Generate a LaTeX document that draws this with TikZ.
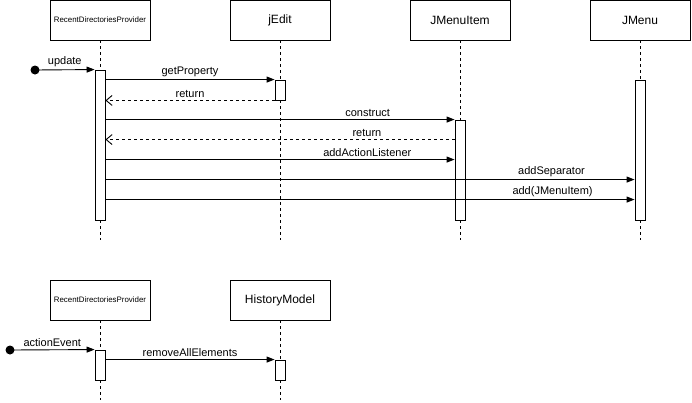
\documentclass[tikz,border=0pt]{standalone}
\usepackage{fontspec}
\setmainfont{Liberation Sans}
\usetikzlibrary{arrows.meta,calc}
\begin{document}
\begin{tikzpicture}[x=1pt,y=-1pt,line width=0.9pt,
 obj/.style={draw, fill=white, minimum width=100pt, minimum height=40pt, inner sep=0pt, font=\fontsize{12}{14}\selectfont},
 smallobj/.style={obj, font=\fontsize{7.9}{9}\selectfont},
 act/.style={draw, fill=white, minimum width=10pt, inner sep=0pt},
 life/.style={dash pattern=on 3pt off 3pt},
 msg/.style={-{Triangle[length=8pt,width=6pt]}},
 ret/.style={dash pattern=on 3pt off 3pt, -{Straight Barb[length=6pt,width=10pt]}},
 lbl/.style={font=\fontsize{11}{13}\selectfont, above, inner sep=2.5pt},
 dot/.style={circle, fill, inner sep=0pt, minimum size=9pt}]
\useasboundingbox (0,0) rectangle (692,402);

% ---- top diagram: objects
\node[smallobj] (rdp) at (100,20) {RecentDirectoriesProvider};
\node[obj] (jedit) at (280,20) {jEdit};
\node[obj] (jmi) at (460,20) {JMenuItem};
\node[obj] (jm) at (640,20) {JMenu};

\coordinate (rdpEnd) at (100,240);
\coordinate (jeditEnd) at (280,240);
\coordinate (jmiEnd) at (460,240);
\coordinate (jmEnd) at (640,240);
\draw[life] (rdp.south) -- (rdpEnd);
\draw[life] (jedit.south) -- (jeditEnd);
\draw[life] (jmi.south) -- (jmiEnd);
\draw[life] (jm.south) -- (jmEnd);

% activations
\node[act, minimum height=150pt] (rdpA) at (100,145) {};
\node[act, minimum height=20pt] (jeditA) at (280,90) {};
\node[act, minimum height=100pt] (jmiA) at (460,170) {};
\node[act, minimum height=140pt] (jmA) at (640,150) {};

\node[dot] (start1) at (35,70) {};

% message anchor points
\coordinate (retMI) at ([yshift=-20pt]jmiA.north west);
\coordinate (aalMI) at ([yshift=-40pt]jmiA.north west);
\coordinate (sepM) at ([yshift=-100pt]jmA.north west);
\coordinate (addM) at ([yshift=-120pt]jmA.north west);

% messages
\draw[msg] (start1.center) -- node[lbl] {update} (rdpA.north west);
\draw[msg] (rdpA.east |- jeditA.north) -- node[lbl] {getProperty} (jeditA.north west);
\draw[ret] (jeditA.south west) -- node[lbl] {return} (rdpA.east |- jeditA.south);
\draw[msg] (rdpA.east |- jmiA.north) -- node[lbl, pos=0.751] {construct} (jmiA.north west);
\draw[ret] (retMI) -- node[lbl, pos=0.251] {return} (rdpA.east |- retMI);
\draw[msg] (rdpA.east |- aalMI) -- node[lbl, pos=0.75] {addActionListener} (aalMI);
\draw[msg] (rdpA.east |- sepM) -- node[lbl, pos=0.843] {addSeparator} (sepM);
\draw[msg] (rdpA.east |- addM) -- node[lbl, pos=0.845] {add(JMenuItem)} (addM);

% ---- bottom diagram
\node[smallobj] (rdp2) at (100,300) {RecentDirectoriesProvider};
\node[obj] (hm) at (280,300) {HistoryModel};
\coordinate (rdp2End) at (100,400);
\coordinate (hmEnd) at (280,400);
\draw[life] (rdp2.south) -- (rdp2End);
\draw[life] (hm.south) -- (hmEnd);

\node[act, minimum height=30pt] (rdpB) at (100,365) {};
\node[act, minimum height=20pt] (hmA) at (280,370) {};
\node[dot] (start2) at (10,350) {};

\draw[msg] (start2.center) -- node[lbl] {actionEvent} (rdpB.north west);
\draw[msg] (rdpB.east |- hmA.north) -- node[lbl] {removeAllElements} (hmA.north west);
\end{tikzpicture}
\end{document}
